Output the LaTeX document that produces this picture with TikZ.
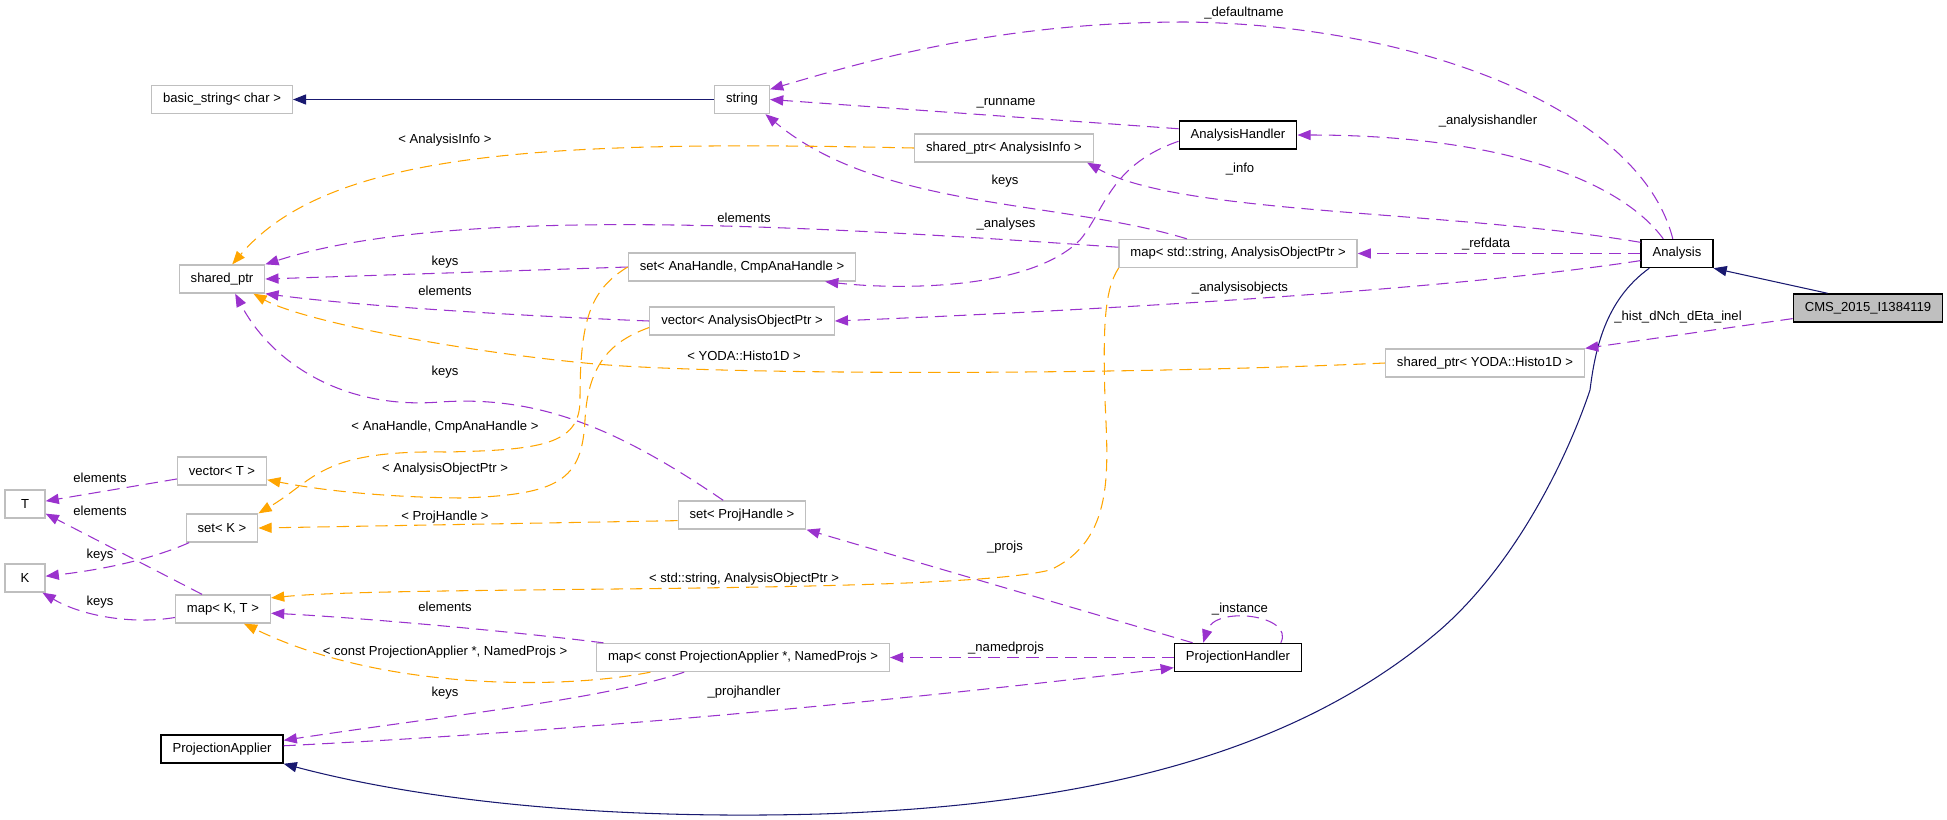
\documentclass[tikz,border=0pt]{standalone}
\usepackage{fontspec}
\setmainfont{Liberation Sans}
\usetikzlibrary{arrows.meta}

\begin{document}
\begin{tikzpicture}[x=0.02cm,y=-0.02cm,font=\fontsize{7.45}{9}\selectfont]
            \definecolor{edgepurple}{RGB}{154,50,205}
            \definecolor{edgeorange}{RGB}{255,165,0}
            \definecolor{edgenavy}{RGB}{25,25,112}
            \definecolor{boxgray}{RGB}{191,191,191}
            \tikzstyle{classbox} = [rectangle,
            draw=boxgray,
            line width=0.75pt,
            fill=white,
            minimum height=0.56cm,
            minimum width=0.8cm,
            inner xsep=6.5pt,
            inner ysep=0pt,
            text centered]
            \tikzstyle{docbox} = [classbox, draw=black, line width=0.85pt]
            \tikzstyle{mainbox} = [docbox, fill=boxgray]
            \tikzstyle{inherit} = [edgenavy, line width=0.6pt, -{Triangle[length=7.5pt,width=5.8pt]}]
            \tikzstyle{member} = [edgepurple, line width=0.6pt, dash pattern=on 7pt off 4pt, -{Triangle[length=7.5pt,width=5.8pt]}]
            \tikzstyle{templ} = [member, edgeorange]
            \tikzstyle{edgelabel} = [inner sep=0pt]
            \useasboundingbox (0,0) rectangle (1947,819);

            \node (bstr)[classbox] at (222,99.5) {basic\_string< char >};
            \node (str)[classbox] at (742,99.5) {string};
            \node (sptr)[classbox] at (222,279) {shared\_ptr};
            \node (ahandler)[docbox] at (1238,135) {AnalysisHandler};
            \node (spinfo)[classbox] at (1004,148) {shared\_ptr< AnalysisInfo >};
            \node (ana)[docbox] at (1677,253.5) {Analysis};
            \node (cms)[mainbox] at (1868,308) {CMS\_2015\_I1384119};
            \node (mapstr)[classbox] at (1238,253.5) {map< std::string, AnalysisObjectPtr >};
            \node (setana)[classbox] at (742,267) {set< AnaHandle, CmpAnaHandle >};
            \node (vecaop)[classbox] at (742,321) {vector< AnalysisObjectPtr >};
            \node (spyoda)[classbox] at (1485,363) {shared\_ptr< YODA::Histo1D >};
            \node (vect)[classbox] at (222,471) {vector< T >};
            \node (tnode)[classbox] at (25,504) {T};
            \node (setk)[classbox] at (222,528) {set< K >};
            \node (knode)[classbox] at (25,578) {K};
            \node (setproj)[classbox] at (742,515) {set< ProjHandle >};
            \node (mapkt)[classbox] at (223,609) {map< K, T >};
            \node (mapproj)[classbox] at (743,657.5) {map< const ProjectionApplier *, NamedProjs >};
            \node (phandler)[docbox] at (1238,657.5) {ProjectionHandler};
            \node (papplier)[docbox] at (222,749) {ProjectionApplier};

            \draw [inherit] (str.west) -- (bstr.east);
            \draw [inherit] (cms.160) -- (ana.south east);
            \draw [inherit] (ana.208) .. controls (1605,300) and (1595,350) .. (1590,390) .. controls (1570,450) and (1520,560) .. (1440,630) .. controls (1300,750) and (1100,805) .. (820,814) .. controls (600,820) and (420,800) .. (papplier.south east);

            \draw [member] (ana.106) .. controls (1640,110) and (1420,25) .. (1186,22) .. controls (1000,22) and (870,60) .. (str.20);
            \draw [member] (ahandler.174) -- (str.east);
            \draw [member] (ana.133) .. controls (1620,180) and (1500,135) .. (ahandler.east);
            \draw [member] (mapstr.164) .. controls (1060,200) and (880,210) .. (str.-32);
            \draw [member] (ana.163) .. controls (1450,210) and (1180,215) .. (spinfo.-10);
            \draw [member] (ana.west) -- (mapstr.east);
            \draw [member] (ana.191) .. controls (1450,290) and (1100,310) .. (vecaop.east);
            \draw [member] (ahandler.186) .. controls (1110,165) and (1105,210) .. (1080,240) .. controls (1030,290) and (900,290) .. (setana.-10);
            \draw [member] (mapstr.177) .. controls (800,225) and (450,205) .. (sptr.north east);
            \draw [member] (setana.west) -- (sptr.east);
            \draw [member] (vecaop.west) .. controls (500,315) and (350,305) .. (sptr.south east);
            \draw [member] (setproj.142) .. controls (620,430) and (540,395) .. (440,402) .. controls (340,410) and (270,360) .. (sptr.-48);
            \draw [member] (cms.188) -- (spyoda.north east);
            \draw [member] (vect.190) -- (tnode.8);
            \draw [member] (mapkt.145) -- (tnode.-25);
            \draw [member] (setk.204) .. controls (150,560) and (100,570) .. (knode.5);
            \draw [member] (mapkt.190) .. controls (130,625) and (80,615) .. (knode.-40);
            \draw [member] (mapproj.174) .. controls (500,630) and (350,617) .. (mapkt.-5);
            \draw [member] (mapproj.194) .. controls (600,700) and (450,715) .. (papplier.8);
            \draw [member] (papplier.3) .. controls (600,730) and (900,700) .. (phandler.189);
            \draw [member] (phandler.west) -- (mapproj.east);
            \draw [member] (phandler.19) .. controls (1295,615) and (1215,605) .. (phandler.157);
            \draw [member] (phandler.162) -- (setproj.south east);

            \draw [templ] (spinfo.west) .. controls (550,140) and (330,150) .. (sptr.55);
            \draw [templ] (spyoda.west) .. controls (1100,376) and (700,375) .. (585,363) .. controls (450,350) and (300,320) .. (sptr.-25);
            \draw [templ] (setana.west) .. controls (590,290) and (580,320) .. (580,400) .. controls (580,445) and (540,450) .. (446,452) .. controls (320,450) and (315,480) .. (setk.north east);
            \draw [templ] (vecaop.184) .. controls (615,340) and (588,360) .. (585,420) .. controls (582,480) and (560,495) .. (460,498) .. controls (380,497) and (320,490) .. (vect.-11);
            \draw [templ] (setproj.185) -- (setk.east);
            \draw [templ] (mapstr.187) .. controls (1104,290) and (1103,330) .. (1105,400) .. controls (1108,470) and (1115,540) .. (1050,570) .. controls (950,595) and (400,585) .. (mapkt.13);
            \draw [templ] (mapproj.189) .. controls (560,690) and (380,690) .. (mapkt.-35);

            \node (ldefault)[edgelabel] at (1244,13) {\_defaultname};
            \node (lrunname)[edgelabel] at (1006,103) {\_runname};
            \node (lhandler)[edgelabel] at (1488,121) {\_analysishandler};
            \node (lkeysstr)[edgelabel] at (1005,181) {keys};
            \node (linfo)[edgelabel] at (1240,169) {\_info};
            \node (linfotpl)[edgelabel] at (445,140) {< AnalysisInfo >};
            \node (lelemmap)[edgelabel] at (744,218) {elements};
            \node (lanalyses)[edgelabel] at (1006,224) {\_analyses};
            \node (lrefdata)[edgelabel] at (1486,244) {\_refdata};
            \node (lkeysset)[edgelabel] at (445,262) {keys};
            \node (lelemvec)[edgelabel] at (445,291) {elements};
            \node (laobjects)[edgelabel] at (1240,288) {\_analysisobjects};
            \node (lhisto)[edgelabel] at (1678,317) {\_hist\_dNch\_dEta\_inel};
            \node (lyoda)[edgelabel] at (744,356) {< YODA::Histo1D >};
            \node (lkeysproj)[edgelabel] at (445,372) {keys};
            \node (lanatpl)[edgelabel] at (445,427) {< AnaHandle, CmpAnaHandle >};
            \node (laoptpl)[edgelabel] at (445,469) {< AnalysisObjectPtr >};
            \node (lelemvt)[edgelabel] at (100,478) {elements};
            \node (lelemkt)[edgelabel] at (100,511) {elements};
            \node (lprojtpl)[edgelabel] at (445,517) {< ProjHandle >};
            \node (lprojs)[edgelabel] at (1005,547) {\_projs};
            \node (lkeysk)[edgelabel] at (100,555) {keys};
            \node (lstrtpl)[edgelabel] at (744,579) {< std::string, AnalysisObjectPtr >};
            \node (lkeyskt)[edgelabel] at (100,602) {keys};
            \node (lelemproj)[edgelabel] at (445,607) {elements};
            \node (linstance)[edgelabel] at (1240,609) {\_instance};
            \node (lnamed)[edgelabel] at (1006,648) {\_namedprojs};
            \node (lconsttpl)[edgelabel] at (445,652) {< const ProjectionApplier *, NamedProjs >};
            \node (lkeyspa)[edgelabel] at (445,693) {keys};
            \node (lprojh)[edgelabel] at (744,692) {\_projhandler};
        \end{tikzpicture}
\end{document}
